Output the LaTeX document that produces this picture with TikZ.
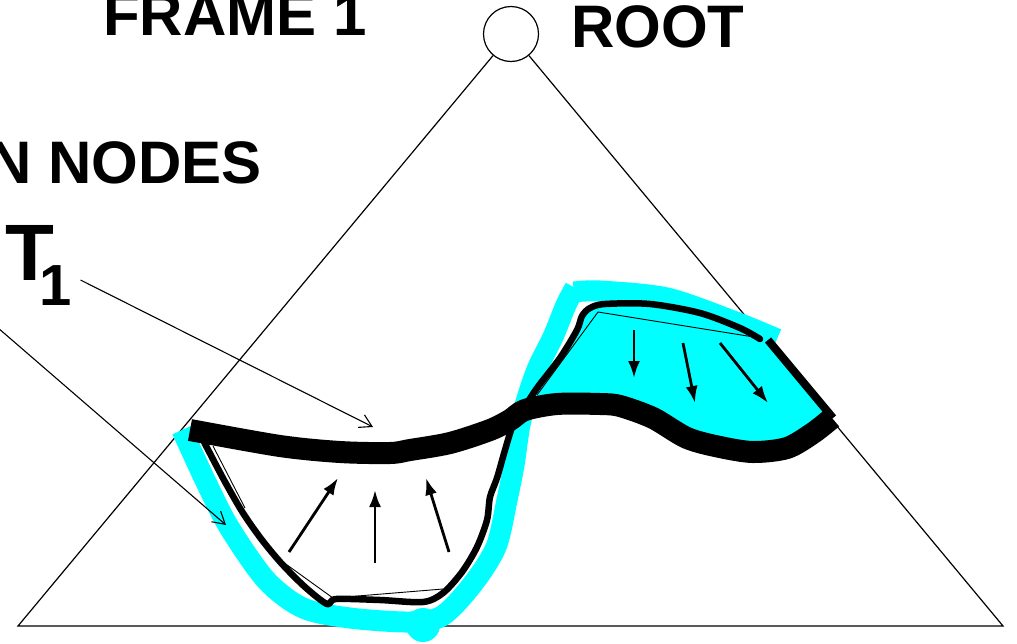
\documentclass[tikz,border=0pt]{standalone}
\usepackage{fontspec}
\setmainfont{Liberation Sans}
\usetikzlibrary{arrows.meta}
\definecolor{aqua}{RGB}{0,255,255}
\begin{document}
\begin{tikzpicture}[x=1pt,y=-1pt,
  lbl/.style={font=\fontsize{60}{60}\selectfont\bfseries, inner sep=0pt},
  thinln/.style={line width=1.2pt},
  hairln/.style={line width=0.9pt},
  ptr/.style={line width=1.1pt, -{Straight Barb[length=12pt,width=14pt]}},
  flow/.style={line width=2.8pt, -{Latex[length=17pt,width=12pt]}},
  cyanstroke/.style={aqua, line width=21pt, line cap=butt, line join=round},
  medln/.style={line width=6.5pt, line join=round, line cap=round},
  band/.style={line width=22pt, line cap=butt, line join=round}]
\useasboundingbox (0,0) rectangle (1017,643);

% labels
\node[lbl, anchor=base west] (frame) at (103,35) {FRAME 1};
\node[lbl, anchor=base west] (rootlbl) at (571,47) {ROOT};
\node[lbl, anchor=base east] (nodes) at (262,183) {N NODES};
\node[inner sep=0pt, anchor=base west] (t1) at (5,280)
  {\fontsize{80}{80}\selectfont\bfseries T\kern-15pt\raisebox{-25pt}{\fontsize{58}{58}\selectfont 1}};

% root and triangle
\node[circle, draw, line width=1.2pt, minimum size=55pt, inner sep=0pt] (root) at (511,34) {};
\coordinate (bl) at (18,626);
\coordinate (br) at (1003,626);
\draw[thinln] (root) -- (bl) -- (br) -- (root);

% cyan filled region
\fill[aqua] (524,410) -- (537,388) -- (560,358) -- (577,330) -- (582,316) -- (590,308)
  -- (605,304) -- (650,304) -- (700,313) -- (740,328) -- (770,342) -- (832,416)
  -- (813,433) -- (787,448) -- (753,452) -- (720,447) -- (687,438) -- (653,418)
  -- (620,406) -- (600,404) -- (557,404) -- (530,408) -- cycle;

% cyan highlighter strokes
\draw[cyanstroke] plot[smooth, tension=0.5] coordinates {(182,430) (205,480) (229,527)
  (266,580) (303,608) (350,618) (410,622) (442,616) (472,585) (496,547) (507,500)
  (514,465) (521,420) (536,372) (553,337) (566,305) (575,288)};
\fill[aqua] (423,625) circle (17pt);
\draw[cyanstroke] plot[smooth, tension=0.5] coordinates {(574,292) (600,291) (667,298)
  (733,321) (777,339)};

% thin approximation lines
\draw[hairln] (213,446) -- (245,508);
\draw[hairln] (283,562) -- (333,598) -- (443,589);
\draw[hairln] (537,395) -- (598,312) -- (760,338);

% black medium boundary line
\draw[medln] plot[smooth, tension=0.5] coordinates {(203,440) (224,480) (243,513)
  (262,540) (282,564) (305,587) (327,604) (336,599) (380,600) (423,602) (443,593)
  (462,572) (477,547) (487,520) (490,497) (497,478) (505,450) (513,425) (524,408)
  (537,388) (560,358) (577,330) (582,316) (590,308) (605,304) (650,304) (700,313)
  (740,328) (760,339)};
\draw[line width=8pt] (768,340) -- (833,418);

% thick T1 band
\draw[band] plot[smooth, tension=0.5] coordinates {(190,430) (280,446) (340,452)
  (390,453) (410,450) (450,443) (490,430) (510,420) (525,410) (557,404) (600,404)
  (620,406) (653,418) (687,438) (720,447) (753,452) (787,448) (813,433) (832,418)};

% flow arrows
\draw[flow] (289,552) -- (338,478);
\draw[flow] (375,563) -- (375,490);
\draw[flow] (449,552) -- (426,478);
\draw[flow] (634,330) -- (634,378);
\draw[flow] (683,343) -- (695,403);
\draw[flow] (720,343) -- (768,403);

% pointers
\coordinate (t1tip) at (373,427);
\coordinate (lfrom) at (-10,321);
\coordinate (ltip) at (226,525);
\draw[ptr] ([xshift=9pt]t1.base east) -- (t1tip);
\draw[ptr] (lfrom) -- (ltip);
\end{tikzpicture}
\end{document}
